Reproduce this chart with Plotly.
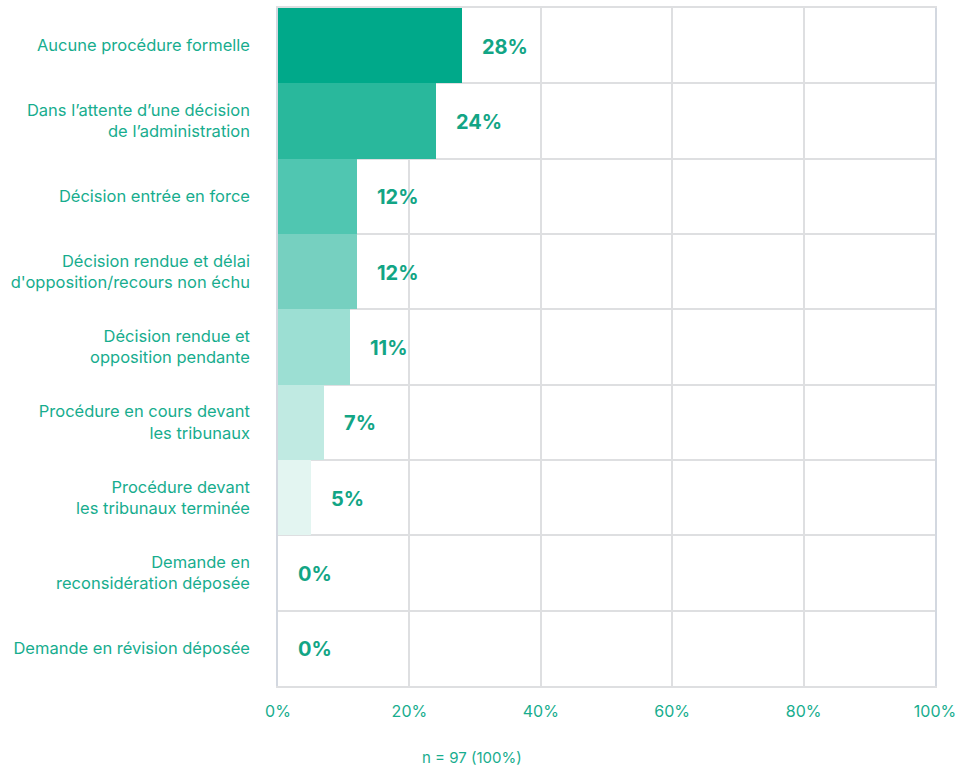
import plotly.graph_objects as go

# Status of the procedures (share of cases, n = 97)
categories = [
    "Aucune procédure formelle",
    "Dans l’attente d’une décision<br>de l’administration",
    "Décision entrée en force",
    "Décision rendue et délai<br>d'opposition/recours non échu",
    "Décision rendue et<br>opposition pendante",
    "Procédure en cours devant<br>les tribunaux",
    "Procédure devant<br>les tribunaux terminée",
    "Demande en<br>reconsidération déposée",
    "Demande en révision déposée",
]
shares = [28, 24, 12, 12, 11, 7, 5, 0, 0]
labels = ["28%", "24%", "12%", "12%", "11%", "7%", "5%", "0%", "0%"]
bar_colors = ["#00a98a", "#29b89c", "#50c6b1", "#76d0c0", "#9cdfd3",
              "#c0eae2", "#e3f5f1", "#e3f5f1", "#e3f5f1"]
x_ticks = [0, 20, 40, 60, 80, 100]
x_ticktext = ["0%", "20%", "40%", "60%", "80%", "100%"]
footnote = "n = 97 (100%)"

GREEN = "#17ad8e"
GRID = "#dedfe1"
FONT = "Inter, Liberation Sans, Arial, sans-serif"

fig = go.Figure(
    go.Bar(
        x=shares,
        y=categories,
        orientation="h",
        marker=dict(color=bar_colors, line=dict(width=0)),
        hoverinfo="skip",
    )
)

# value labels placed just right of each bar end
for cat, val, lab in zip(categories, shares, labels):
    fig.add_annotation(
        x=val, y=cat, text=f"<b>{lab}</b>", showarrow=False,
        xanchor="left", yanchor="middle", xshift=18, yshift=-1,
        font=dict(family=FONT, size=20, color="#12a585"),
    )

fig.add_annotation(
    x=0.295, y=0, xref="paper", yref="paper", yshift=-71,
    text=footnote, showarrow=False, xanchor="center", yanchor="middle",
    font=dict(family=FONT, size=15, color=GREEN),
)

fig.update_layout(
    width=957, height=767,
    margin=dict(l=278, r=22, t=8, b=81),
    paper_bgcolor="white", plot_bgcolor="white",
    bargap=0,
    showlegend=False,
    xaxis=dict(
        range=[0, 100], tickvals=x_ticks, ticktext=x_ticktext,
        showgrid=True, gridcolor=GRID, gridwidth=1.5,
        zeroline=False, showline=True, linecolor=GRID, linewidth=1.5, mirror=True,
        ticks="", ticklabelstandoff=10, automargin=False,
        tickfont=dict(family=FONT, size=16, color=GREEN),
        fixedrange=True,
    ),
    yaxis=dict(
        type="category", categoryorder="array", categoryarray=categories,
        autorange="reversed",
        tickson="boundaries", showgrid=True, gridcolor=GRID, gridwidth=1.5,
        showline=True, linecolor="#d3d8e0", linewidth=1.5, mirror=True,
        ticks="", ticklabelstandoff=23, automargin=False,
        tickfont=dict(family=FONT, size=16.5, color=GREEN),
        fixedrange=True,
    ),
)

fig.write_html("out.html")
